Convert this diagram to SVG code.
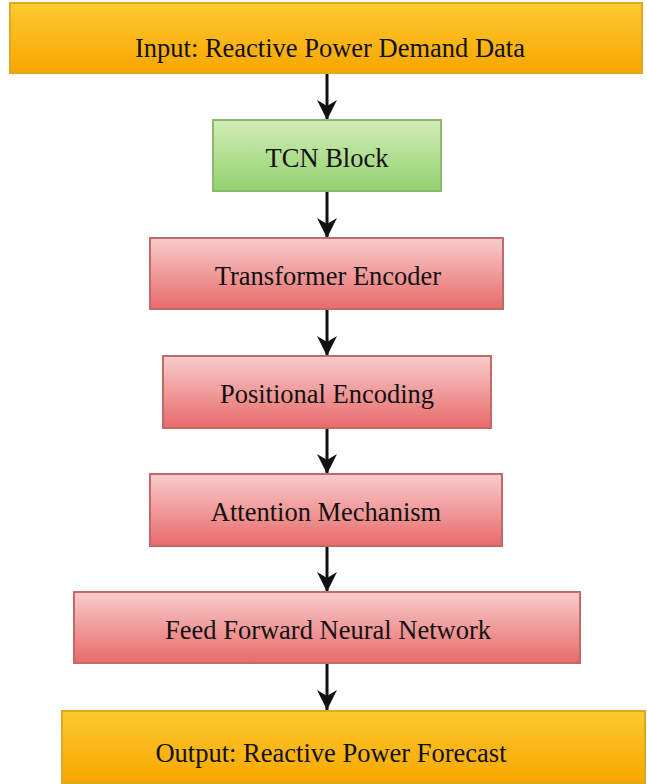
<svg xmlns="http://www.w3.org/2000/svg" width="647" height="784" viewBox="0 0 647 784">
<defs>
<linearGradient id="gO" x1="0" y1="0" x2="0" y2="1"><stop offset="0" stop-color="#fdca30"/><stop offset="1" stop-color="#f8a600"/></linearGradient>
<linearGradient id="gG" x1="0" y1="0" x2="0" y2="1"><stop offset="0" stop-color="#d2ecb6"/><stop offset="1" stop-color="#92d26e"/></linearGradient>
<linearGradient id="gR" x1="0" y1="0" x2="0" y2="1"><stop offset="0" stop-color="#f9cccc"/><stop offset="1" stop-color="#e86a6a"/></linearGradient>
<marker id="ah" viewBox="0 0 20 20" refX="20" refY="10" markerWidth="20" markerHeight="20" markerUnits="userSpaceOnUse" orient="auto"><path d="M0,0 L20,10 L0,20 L6,10 Z" fill="#111"/></marker>
</defs>
<style>
.o{fill:url(#gO);stroke:#e0a820;stroke-width:2}
.g{fill:url(#gG);stroke:#8cb874;stroke-width:2}
.r{fill:url(#gR);stroke:#c26a6a;stroke-width:2}
text{font-family:"Liberation Serif","Times New Roman",serif;font-size:26.5px;fill:#111;text-anchor:middle}
.c{stroke:#111;stroke-width:3;fill:none;marker-end:url(#ah)}
</style>
<rect width="647" height="784" fill="#fff"/>
<g id="connectors">
<line class="c" x1="327" y1="73" x2="327" y2="120"/>
<line class="c" x1="327" y1="191" x2="327" y2="238"/>
<line class="c" x1="327" y1="309" x2="327" y2="356"/>
<line class="c" x1="327" y1="428" x2="327" y2="474"/>
<line class="c" x1="327" y1="546" x2="327" y2="592"/>
<line class="c" x1="327" y1="663" x2="327" y2="710"/>
</g>
<g id="n1"><rect class="o" x="10" y="3" width="632" height="70"/><text x="330" y="57">Input: Reactive Power Demand Data</text></g>
<g id="n2"><rect class="g" x="213" y="120" width="228" height="71"/><text x="327" y="167">TCN Block</text></g>
<g id="n3"><rect class="r" x="150" y="238" width="353" height="71"/><text x="328" y="285">Transformer Encoder</text></g>
<g id="n4"><rect class="r" x="163" y="356" width="328" height="72"/><text x="327" y="403">Positional Encoding</text></g>
<g id="n5"><rect class="r" x="150" y="474" width="352" height="72"/><text x="326" y="521">Attention Mechanism</text></g>
<g id="n6"><rect class="r" x="74" y="592" width="506" height="71"/><text x="328" y="639">Feed Forward Neural Network</text></g>
<g id="n7"><rect class="o" x="62" y="711" width="583" height="72"/><text x="331" y="762">Output: Reactive Power Forecast</text></g>
</svg>
